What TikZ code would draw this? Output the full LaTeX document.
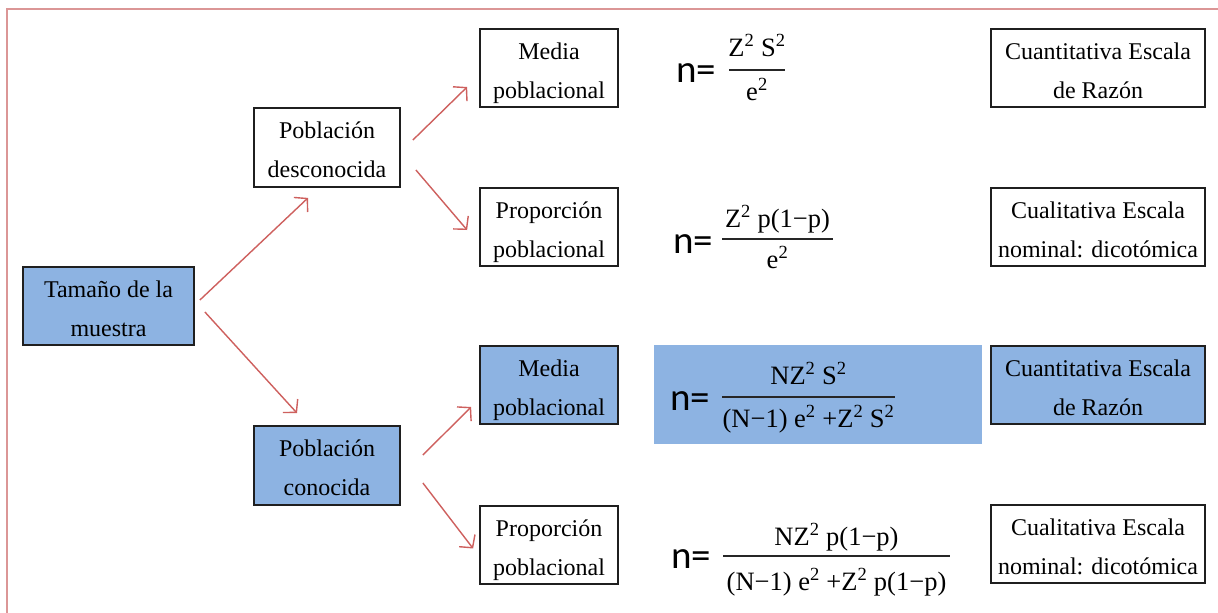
\documentclass[tikz,border=0pt]{standalone}
\usepackage{fontspec}
\setmainfont{Liberation Serif}
\newfontfamily\calib{Carlito}
\usetikzlibrary{arrows.meta,calc}
\definecolor{boxblue}{RGB}{141,179,226}
\definecolor{arrred}{RGB}{206,96,94}
\definecolor{framepink}{RGB}{219,150,150}
\newcommand\sq{\textsuperscript{2}}
% two-line box text: fixed first-line height, descenders of the second line ignored
\newcommand\twol[2]{\rule{0pt}{21pt}#1\\\smash{#2}}
\begin{document}
\begin{tikzpicture}[x=1pt,y=-1pt,
  box/.style={draw=black!88,line width=1.8pt,align=center,inner sep=0pt,
    font=\fontsize{24}{39}\selectfont,text=black},
  bluebox/.style={box,fill=boxblue},
  arr/.style={draw=arrred,line width=1.4pt,
    -{Straight Barb[length=9pt,width=20pt,line width=1.4pt]}},
  nlab/.style={font=\calib\fontsize{39}{39}\selectfont,anchor=base west,inner sep=0pt},
  ftxt/.style={font=\fontsize{26.5}{26.5}\selectfont,anchor=base,inner sep=0pt},
  fbar/.style={line width=1.5pt,draw=black!85}]
\useasboundingbox (0,0) rectangle (1218,613);
\fill[white] (0,0) rectangle (1218,613);

% page frame
\draw[framepink,line width=2pt] (7,613) -- (7,9);
\draw[framepink,line width=1.5pt] (6,9) -- (1218,9);

% left part of the tree
\node[bluebox,minimum width=171pt,minimum height=78pt] (tam) at (108.5,306) {\twol{Tamaño de la}{muestra}};
\node[box,minimum width=146pt,minimum height=79pt] (des) at (327,147.5) {\twol{Población}{desconocida}};
\node[bluebox,minimum width=146pt,minimum height=79pt] (con) at (327,465.5) {\twol{Población}{conocida}};

% parameter boxes
\node[box,minimum width=138pt,minimum height=78pt] (m1) at (549,68) {\twol{Media}{poblacional}};
\node[box,minimum width=138pt,minimum height=78pt] (p1) at (549,227) {\twol{Proporción}{poblacional}};
\node[bluebox,minimum width=138pt,minimum height=78pt] (m2) at (549,385) {\twol{Media}{poblacional}};
\node[box,minimum width=138pt,minimum height=78pt] (p2) at (549,545) {\twol{Proporción}{poblacional}};

% scale boxes
\node[box,minimum width=214pt,minimum height=78pt] (r1) at (1098,68) {\twol{Cuantitativa Escala}{de Razón}};
\node[box,minimum width=214pt,minimum height=78pt] (r2) at (1098,227) {\twol{Cualitativa Escala}{nominal: dicotómica}};
\node[bluebox,minimum width=214pt,minimum height=78pt] (r3) at (1098,385) {\twol{Cuantitativa Escala}{de Razón}};
\node[box,minimum width=214pt,minimum height=78pt] (r4) at (1098,544) {\twol{Cualitativa Escala}{nominal: dicotómica}};

% connectors
\draw[arr] ([shift={(5,-6)}]tam.east) -- ([shift={(-19,10)}]des.south);
\draw[arr] ([shift={(10,6)}]tam.east) -- ([shift={(-30,-12)}]con.north);
\draw[arr] ([shift={(12,-7.5)}]des.east) -- ([shift={(-12,19)}]m1.west);
\draw[arr] ([shift={(15,22.5)}]des.east) -- ([shift={(-12,3)}]p1.west);
\draw[arr] ([shift={(22,-10.5)}]con.east) -- ([shift={(-8,22)}]m2.west);
\draw[arr] ([shift={(22,17.5)}]con.east) -- ([shift={(-6,3.5)}]p2.west);

% formula 1
\node[nlab] (n1) at (676,82) {n=};
\node[ftxt] (t1) at (757,56) {Z\sq\ S\sq};
\draw[fbar] (729,70) -- (785,70);
\node[ftxt] (b1) at (757,100) {e\sq};

% formula 2
\node[nlab] (n2) at (673,253) {n=};
\node[ftxt] (t2) at (777.5,227) {Z\sq\ p(1−p)};
\draw[fbar] (722,239) -- (833,239);
\node[ftxt] (b2) at (777.5,268) {e\sq};

% formula 3 (highlighted)
\fill[boxblue] (654,345) rectangle (982,444);
\node[nlab] (n3) at (670,410) {n=};
\node[ftxt] (t3) at (808.5,384) {NZ\sq\ S\sq};
\draw[fbar] (722,397) -- (895,397);
\node[ftxt] (b3) at (808.5,427) {(N−1) e\sq\ +Z\sq\ S\sq};

% formula 4
\node[nlab] (n4) at (671,568) {n=};
\node[ftxt] (t4) at (836.5,545) {NZ\sq\ p(1−p)};
\draw[fbar] (723,556) -- (950,556);
\node[ftxt] (b4) at (836.5,590) {(N−1) e\sq\ +Z\sq\ p(1−p)};
\end{tikzpicture}
\end{document}
